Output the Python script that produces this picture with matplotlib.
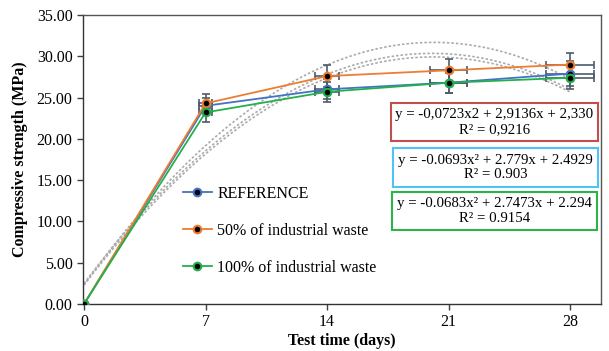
import matplotlib
matplotlib.use("Agg")
import matplotlib.pyplot as plt
from matplotlib.patches import Rectangle
import numpy as np

plt.rcParams['font.family'] = ['Liberation Serif', 'DejaVu Serif']

# test days and measured strength (MPa)
days = [0, 7, 14, 21, 28]
ref = [0.0, 24.0, 26.0, 26.8, 27.9]
waste50 = [0.0, 24.3, 27.6, 28.3, 29.0]
waste100 = [0.0, 23.2, 25.7, 26.8, 27.4]

ref_err = [0.0, 1.0, 1.2, 1.3, 1.5]
waste50_err = [0.0, 1.1, 1.3, 1.4, 1.4]
waste100_err = [0.0, 1.1, 1.2, 1.2, 1.4]
days_err = [0.0, 0.35, 0.7, 1.05, 1.4]

labels = ["REFERENCE", "50% of industrial waste", "100% of industrial waste"]

# polynomial trendline coefficients (a, b, c) and the box text
fit_waste50 = (-0.0723, 2.9136, 2.330)
fit_ref = (-0.0693, 2.779, 2.4929)
fit_waste100 = (-0.0683, 2.7473, 2.294)
eq_texts = ["y = -0,0723x2 + 2,9136x + 2,330\nR² = 0,9216",
            "y = -0.0693x² + 2.779x + 2.4929\nR² = 0.903",
            "y = -0.0683x² + 2.7473x + 2.294\nR² = 0.9154"]

W, H = 609, 351
fig = plt.figure(figsize=(W / 100, H / 100), dpi=100)
ax = fig.add_axes([83 / W, 1 - 304 / H, (601 - 83) / W, (304 - 15) / H])

# dotted trendlines
xs = np.linspace(0, 28, 200)
for a, b, c in (fit_ref, fit_waste50, fit_waste100):
    ax.plot(xs, a * xs**2 + b * xs + c, color='#ababab', lw=1.2,
            ls=(0, (1.5, 1.2)), zorder=1)

colors = ['#4472C4', '#ED7D31', '#22B04B']
series = [(ref, ref_err), (waste50, waste50_err), (waste100, waste100_err)]
for (vals, err), col, lab in zip(series, colors, labels):
    ax.plot(days, vals, color=col, lw=1.3, marker='o', ms=5.5,
            mfc='black', mec=col, mew=1.5, label=lab, zorder=3)
    ax.errorbar(days, vals, yerr=err, xerr=days_err, fmt='none',
                ecolor='#4f5a6b', elinewidth=1.2, capsize=3, capthick=1.2, zorder=2)

ax.set_xlim(-0.06, 29.78)
ax.set_ylim(0, 35)
ax.set_xticks(days)
ax.set_yticks(np.arange(0, 35.1, 5))
ax.set_yticklabels([f"{v:.2f}" for v in np.arange(0, 35.1, 5)])
ax.tick_params(labelsize=11.5, length=4, width=1, color='#404040', direction='out')
for sp in ax.spines.values():
    sp.set_color('#555555')
    sp.set_linewidth(1)
ax.spines['left'].set_color('#333333')
ax.spines['bottom'].set_color('#333333')

ax.set_xlabel("Test time (days)", fontsize=11.5, fontweight='bold', labelpad=2)
ax.set_ylabel("Compressive strength (MPa)", fontsize=11.5, fontweight='bold', labelpad=6)

ax.legend(loc='upper left', bbox_to_anchor=(175 / W, 1 - 178 / H),
          bbox_transform=fig.transFigure, frameon=False, fontsize=11.5,
          handlelength=1.8, handletextpad=0.35, labelspacing=1.3, borderpad=0)

# equation boxes
boxes = [(391, 103, 598, 141, '#C0504D'),
         (393, 148, 598, 187, '#4FC3F7'),
         (392, 192, 597, 230, '#2DB34A')]
for (x0, y0, x1, y1, ec), txt in zip(boxes, eq_texts):
    fig.add_artist(Rectangle((x0 / W, 1 - y1 / H), (x1 - x0) / W, (y1 - y0) / H,
                             transform=fig.transFigure, fc='white', ec=ec, lw=1.5,
                             zorder=5))
    fig.text((x0 + x1) / 2 / W, 1 - (y0 + y1) / 2 / H, txt, ha='center',
             va='center', fontsize=10.7, linespacing=1.15, zorder=6)

fig.savefig("out.png", dpi=100)
